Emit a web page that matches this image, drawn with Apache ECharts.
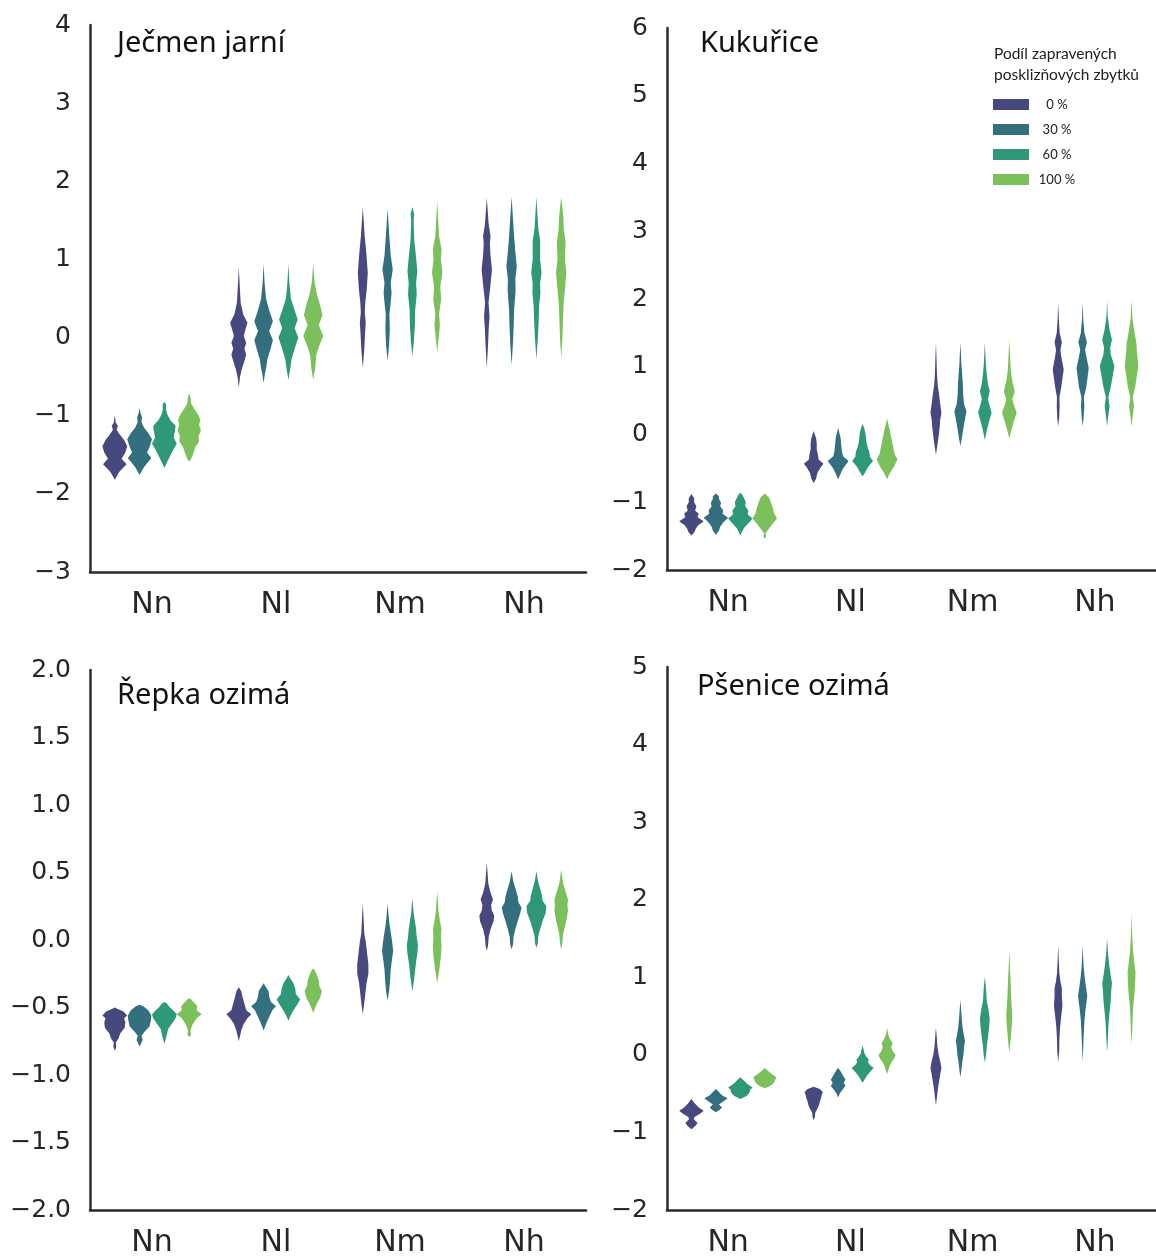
<!DOCTYPE html>
<html>
<head>
<meta charset="utf-8">
<script src="https://cdn.jsdelivr.net/npm/echarts@6/dist/echarts.min.js"></script>
<style>
html, body { margin: 0; padding: 0; background: #fff; }
#chart { width: 1156px; height: 1258px; }
</style>
</head>
<body>
<div id="chart"></div>
<script>
var categories = ['Nn', 'Nl', 'Nm', 'Nh'];
var residues = ['0 %', '30 %', '60 %', '100 %'];
var colors = ['#47487d', '#346f80', '#2f9879', '#7cc05b'];
var panelTitles = ['Ječmen jarní', 'Kukuřice', 'Řepka ozimá', 'Pšenice ozimá'];

// violin profiles: [value, relative density] for each category x residue share
var jecmen = [
  [ // Nn
    [[-1.82,0],[-1.72,0.35],[-1.62,0.95],[-1.55,0.55],[-1.47,0.85],[-1.39,1.0],[-1.31,0.75],[-1.24,0.4],[-1.18,0.15],[-1.13,0.25],[-1.09,0.08],[-0.99,0]],
    [[-1.76,0],[-1.66,0.35],[-1.54,0.95],[-1.47,0.6],[-1.40,0.8],[-1.30,1.0],[-1.22,0.7],[-1.15,0.35],[-1.08,0.15],[-1.02,0.2],[-0.97,0.08],[-0.90,0]],
    [[-1.67,0],[-1.60,0.2],[-1.52,0.45],[-1.44,0.7],[-1.36,1.0],[-1.28,0.75],[-1.20,0.85],[-1.13,0.9],[-1.06,0.5],[-0.99,0.25],[-0.92,0.12],[-0.86,0.15],[-0.82,0]],
    [[-1.59,0],[-1.54,0.2],[-1.47,0.35],[-1.40,0.5],[-1.33,0.8],[-1.26,0.75],[-1.19,0.95],[-1.12,0.8],[-1.05,0.9],[-0.98,0.7],[-0.91,0.4],[-0.84,0.15],[-0.78,0.12],[-0.71,0]]
  ],
  [ // Nl
    [[-0.64,0],[-0.50,0.1],[-0.40,0.25],[-0.30,0.45],[-0.22,0.6],[-0.14,0.45],[-0.07,0.6],[0.02,0.4],[0.08,0.5],[0.19,0.7],[0.30,0.35],[0.45,0.15],[0.65,0.08],[0.90,0]],
    [[-0.58,0],[-0.45,0.12],[-0.38,0.22],[-0.28,0.3],[-0.15,0.55],[-0.03,0.75],[0.08,0.45],[0.21,0.75],[0.35,0.45],[0.50,0.2],[0.70,0.08],[0.94,0]],
    [[-0.54,0],[-0.40,0.15],[-0.28,0.25],[-0.12,0.55],[0.0,0.8],[0.12,0.5],[0.23,0.75],[0.35,0.5],[0.50,0.2],[0.70,0.08],[0.94,0]],
    [[-0.54,0],[-0.40,0.15],[-0.22,0.25],[-0.12,0.45],[0.02,0.8],[0.16,0.45],[0.29,0.75],[0.42,0.55],[0.55,0.3],[0.70,0.12],[0.94,0]]
  ],
  [ // Nm
    [[-0.39,0],[-0.15,0.12],[0.05,0.18],[0.19,0.24],[0.32,0.16],[0.45,0.2],[0.62,0.32],[0.83,0.4],[1.05,0.3],[1.30,0.15],[1.67,0]],
    [[-0.30,0],[-0.10,0.12],[0.10,0.18],[0.30,0.15],[0.45,0.25],[0.57,0.32],[0.70,0.25],[0.87,0.42],[1.05,0.25],[1.30,0.14],[1.65,0]],
    [[-0.24,0],[-0.05,0.12],[0.15,0.2],[0.35,0.22],[0.55,0.35],[0.70,0.3],[0.85,0.4],[1.05,0.28],[1.25,0.15],[1.50,0.1],[1.58,0.14],[1.67,0]],
    [[-0.19,0],[0.0,0.12],[0.15,0.22],[0.30,0.15],[0.49,0.32],[0.65,0.25],[0.83,0.42],[1.00,0.3],[1.13,0.35],[1.30,0.15],[1.50,0.08],[1.75,0]]
  ],
  [ // Nh
    [[-0.39,0],[-0.10,0.1],[0.10,0.15],[0.27,0.22],[0.45,0.14],[0.65,0.28],[0.87,0.42],[1.05,0.3],[1.20,0.25],[1.30,0.3],[1.45,0.15],[1.79,0]],
    [[-0.35,0],[-0.10,0.1],[0.15,0.17],[0.35,0.2],[0.60,0.32],[0.75,0.3],[0.91,0.42],[1.10,0.3],[1.30,0.2],[1.50,0.12],[1.80,0]],
    [[-0.28,0],[0.0,0.12],[0.20,0.18],[0.40,0.22],[0.57,0.32],[0.70,0.3],[0.83,0.42],[1.00,0.3],[1.24,0.3],[1.40,0.15],[1.80,0]],
    [[-0.26,0],[0.0,0.1],[0.25,0.15],[0.45,0.2],[0.65,0.32],[0.83,0.42],[1.00,0.3],[1.22,0.35],[1.40,0.2],[1.53,0.18],[1.80,0]]
  ]
];

var kukurice = [
  [
    [[-1.49,0],[-1.44,0.25],[-1.39,0.35],[-1.34,0.55],[-1.28,1.0],[-1.22,0.5],[-1.17,0.6],[-1.12,0.3],[-1.06,0.4],[-1.00,0.22],[-0.94,0.22],[-0.88,0]],
    [[-1.48,0],[-1.42,0.25],[-1.36,0.35],[-1.30,0.6],[-1.23,1.0],[-1.17,0.55],[-1.12,0.6],[-1.06,0.35],[-1.01,0.42],[-0.95,0.25],[-0.91,0.25],[-0.87,0]],
    [[-1.49,0],[-1.43,0.15],[-1.38,0.3],[-1.32,0.6],[-1.24,1.0],[-1.18,0.6],[-1.12,0.65],[-1.06,0.4],[-1.0,0.45],[-0.94,0.3],[-0.90,0.2],[-0.86,0]],
    [[-1.54,0],[-1.50,0.12],[-1.46,0.05],[-1.40,0.3],[-1.34,0.55],[-1.24,1.0],[-1.16,0.75],[-1.08,0.65],[-1.0,0.5],[-0.93,0.35],[-0.87,0]]
  ],
  [
    [[-0.72,0],[-0.65,0.2],[-0.57,0.3],[-0.49,0.55],[-0.43,0.8],[-0.37,0.4],[-0.30,0.35],[-0.22,0.25],[-0.14,0.25],[-0.06,0.2],[0.05,0]],
    [[-0.66,0],[-0.58,0.2],[-0.50,0.4],[-0.39,0.85],[-0.32,0.4],[-0.24,0.3],[-0.15,0.25],[-0.05,0.2],[0.10,0]],
    [[-0.62,0],[-0.56,0.2],[-0.48,0.45],[-0.39,0.85],[-0.33,0.6],[-0.26,0.55],[-0.18,0.4],[-0.10,0.3],[0.0,0.25],[0.08,0.15],[0.16,0]],
    [[-0.66,0],[-0.58,0.2],[-0.48,0.55],[-0.37,0.85],[-0.28,0.6],[-0.18,0.5],[-0.05,0.35],[0.08,0.2],[0.15,0.1],[0.24,0]]
  ],
  [
    [[-0.30,0],[-0.18,0.1],[-0.05,0.2],[0.10,0.3],[0.22,0.35],[0.32,0.45],[0.45,0.35],[0.60,0.25],[0.72,0.15],[0.90,0.08],[1.1,0.05],[1.36,0]],
    [[-0.17,0],[-0.05,0.12],[0.10,0.25],[0.25,0.4],[0.34,0.5],[0.45,0.3],[0.60,0.22],[0.75,0.2],[0.88,0.15],[1.05,0.08],[1.36,0]],
    [[-0.08,0],[0.05,0.15],[0.20,0.35],[0.32,0.55],[0.45,0.35],[0.52,0.25],[0.64,0.4],[0.75,0.25],[0.90,0.15],[1.05,0.08],[1.36,0]],
    [[-0.06,0],[0.05,0.15],[0.18,0.35],[0.32,0.6],[0.45,0.35],[0.52,0.25],[0.64,0.45],[0.78,0.25],[0.95,0.12],[1.10,0.08],[1.40,0]]
  ],
  [
    [[0.12,0],[0.25,0.08],[0.42,0.12],[0.55,0.1],[0.70,0.25],[0.96,0.45],[1.15,0.25],[1.25,0.18],[1.36,0.3],[1.50,0.12],[1.70,0.05],[1.94,0]],
    [[0.12,0],[0.25,0.08],[0.42,0.14],[0.55,0.1],[0.70,0.3],[0.98,0.5],[1.15,0.3],[1.25,0.2],[1.36,0.35],[1.50,0.15],[1.70,0.05],[1.96,0]],
    [[0.12,0],[0.25,0.08],[0.42,0.2],[0.55,0.1],[0.70,0.3],[1.01,0.6],[1.18,0.3],[1.28,0.25],[1.40,0.4],[1.55,0.2],[1.75,0.05],[1.98,0]],
    [[0.12,0],[0.25,0.08],[0.42,0.2],[0.55,0.1],[0.70,0.3],[1.01,0.55],[1.20,0.45],[1.35,0.4],[1.50,0.25],[1.70,0.08],[1.98,0]]
  ]
];

var repka = [
  [
    [[-0.82,0],[-0.79,0.12],[-0.76,0.08],[-0.73,0.3],[-0.69,0.45],[-0.65,0.8],[-0.61,0.85],[-0.58,0.75],[-0.56,1.0],[-0.53,0.7],[-0.51,0.2],[-0.50,0]],
    [[-0.79,0],[-0.76,0.15],[-0.74,0.25],[-0.71,0.15],[-0.68,0.4],[-0.64,0.8],[-0.60,0.9],[-0.56,0.95],[-0.52,0.7],[-0.49,0.3],[-0.48,0]],
    [[-0.77,0],[-0.73,0.12],[-0.70,0.2],[-0.66,0.3],[-0.62,0.6],[-0.58,0.9],[-0.55,1.0],[-0.52,0.7],[-0.50,0.45],[-0.47,0.2],[-0.46,0]],
    [[-0.72,0],[-0.70,0.15],[-0.67,0.1],[-0.63,0.25],[-0.58,0.6],[-0.55,1.0],[-0.52,0.6],[-0.49,0.65],[-0.46,0.35],[-0.44,0.15],[-0.43,0]]
  ],
  [
    [[-0.75,0],[-0.71,0.1],[-0.67,0.2],[-0.62,0.4],[-0.58,0.7],[-0.55,1.0],[-0.52,0.6],[-0.47,0.45],[-0.42,0.3],[-0.38,0.2],[-0.35,0]],
    [[-0.67,0],[-0.64,0.12],[-0.60,0.3],[-0.55,0.55],[-0.52,0.7],[-0.49,1.0],[-0.46,0.6],[-0.42,0.45],[-0.38,0.4],[-0.35,0.2],[-0.32,0]],
    [[-0.60,0],[-0.57,0.12],[-0.53,0.35],[-0.48,0.7],[-0.44,0.95],[-0.40,0.6],[-0.36,0.55],[-0.32,0.4],[-0.29,0.2],[-0.26,0]],
    [[-0.54,0],[-0.51,0.12],[-0.47,0.3],[-0.43,0.55],[-0.38,0.7],[-0.34,0.5],[-0.30,0.45],[-0.26,0.3],[-0.23,0.15],[-0.21,0]]
  ],
  [
    [[-0.55,0],[-0.48,0.1],[-0.40,0.2],[-0.32,0.3],[-0.25,0.45],[-0.18,0.45],[-0.10,0.35],[-0.02,0.25],[0.05,0.12],[0.15,0.07],[0.27,0]],
    [[-0.45,0],[-0.38,0.12],[-0.30,0.2],[-0.22,0.25],[-0.15,0.35],[-0.08,0.45],[0.0,0.35],[0.06,0.25],[0.12,0.15],[0.18,0.08],[0.27,0]],
    [[-0.38,0],[-0.32,0.1],[-0.24,0.2],[-0.16,0.3],[-0.10,0.4],[-0.04,0.45],[0.02,0.35],[0.08,0.3],[0.14,0.2],[0.20,0.1],[0.31,0]],
    [[-0.32,0],[-0.26,0.1],[-0.20,0.2],[-0.12,0.3],[-0.05,0.35],[0.03,0.3],[0.08,0.35],[0.14,0.22],[0.20,0.12],[0.28,0.06],[0.36,0]]
  ],
  [
    [[-0.08,0],[-0.04,0.1],[0.02,0.15],[0.08,0.3],[0.14,0.55],[0.18,0.6],[0.22,0.4],[0.26,0.35],[0.30,0.5],[0.35,0.3],[0.42,0.12],[0.50,0.06],[0.57,0]],
    [[-0.07,0],[-0.03,0.12],[0.02,0.15],[0.08,0.3],[0.14,0.5],[0.20,0.7],[0.24,0.8],[0.28,0.55],[0.32,0.5],[0.37,0.35],[0.43,0.15],[0.51,0]],
    [[-0.06,0],[-0.02,0.12],[0.03,0.15],[0.08,0.3],[0.14,0.5],[0.20,0.75],[0.25,0.8],[0.29,0.5],[0.33,0.45],[0.38,0.3],[0.44,0.12],[0.51,0]],
    [[-0.07,0],[-0.02,0.1],[0.04,0.15],[0.10,0.3],[0.16,0.45],[0.22,0.55],[0.26,0.5],[0.30,0.55],[0.36,0.35],[0.42,0.15],[0.52,0]]
  ]
];

var psenice = [
  [
    [[-0.96,0],[-0.92,0.3],[-0.88,0.5],[-0.83,0.2],[-0.80,0.25],[-0.76,0.7],[-0.72,1.0],[-0.68,0.6],[-0.63,0.3],[-0.57,0]],
    [[-0.74,0],[-0.71,0.3],[-0.68,0.5],[-0.64,0.25],[-0.60,0.6],[-0.56,0.95],[-0.52,0.5],[-0.48,0.25],[-0.44,0]],
    [[-0.57,0],[-0.53,0.5],[-0.49,0.75],[-0.45,0.8],[-0.42,1.0],[-0.38,0.6],[-0.34,0.35],[-0.29,0]],
    [[-0.43,0],[-0.40,0.45],[-0.36,0.75],[-0.32,0.85],[-0.29,0.95],[-0.25,0.6],[-0.21,0.3],[-0.17,0]]
  ],
  [
    [[-0.84,0],[-0.80,0.1],[-0.75,0.12],[-0.68,0.35],[-0.64,0.45],[-0.60,0.5],[-0.56,0.6],[-0.52,0.65],[-0.48,0.75],[-0.44,0.5],[-0.41,0]],
    [[-0.55,0],[-0.50,0.12],[-0.45,0.35],[-0.40,0.6],[-0.36,0.45],[-0.32,0.6],[-0.28,0.45],[-0.24,0.3],[-0.20,0.15],[-0.17,0]],
    [[-0.36,0],[-0.32,0.15],[-0.27,0.35],[-0.22,0.6],[-0.17,0.9],[-0.13,0.6],[-0.10,0.45],[-0.06,0.5],[-0.02,0.3],[0.02,0.15],[0.06,0.1],[0.12,0]],
    [[-0.25,0],[-0.20,0.1],[-0.15,0.2],[-0.10,0.35],[-0.04,0.6],[0.0,0.7],[0.05,0.45],[0.10,0.35],[0.15,0.45],[0.20,0.25],[0.26,0.1],[0.35,0]]
  ],
  [
    [[-0.65,0],[-0.55,0.08],[-0.45,0.15],[-0.35,0.25],[-0.25,0.35],[-0.17,0.45],[-0.08,0.35],[0.0,0.22],[0.10,0.12],[0.22,0.07],[0.35,0]],
    [[-0.29,0],[-0.20,0.08],[-0.10,0.15],[0.0,0.25],[0.10,0.3],[0.18,0.38],[0.26,0.28],[0.35,0.18],[0.45,0.12],[0.58,0.06],[0.71,0]],
    [[-0.10,0],[0.0,0.1],[0.10,0.15],[0.22,0.25],[0.35,0.35],[0.47,0.4],[0.58,0.3],[0.70,0.15],[0.85,0.1],[1.01,0]],
    [[0.03,0],[0.15,0.08],[0.28,0.15],[0.40,0.22],[0.50,0.25],[0.62,0.2],[0.75,0.15],[0.90,0.12],[1.10,0.06],[1.35,0]]
  ],
  [
    [[-0.10,0],[0.05,0.08],[0.20,0.1],[0.35,0.15],[0.50,0.25],[0.64,0.35],[0.75,0.3],[0.86,0.3],[0.95,0.18],[1.05,0.1],[1.20,0.05],[1.41,0]],
    [[-0.08,0],[0.10,0.05],[0.30,0.1],[0.45,0.15],[0.60,0.25],[0.76,0.38],[0.90,0.25],[1.02,0.15],[1.15,0.08],[1.40,0]],
    [[0.03,0],[0.20,0.06],[0.40,0.12],[0.55,0.2],[0.70,0.3],[0.85,0.35],[0.92,0.4],[1.02,0.3],[1.15,0.18],[1.30,0.08],[1.50,0]],
    [[0.13,0],[0.30,0.05],[0.50,0.1],[0.65,0.15],[0.80,0.25],[0.95,0.3],[1.07,0.32],[1.20,0.22],[1.35,0.12],[1.55,0.05],[1.82,0]]
  ]
];

var panelData = [jecmen, kukurice, repka, psenice];
var yMin = [-3, -2, -2, -2];
var yMax = [4, 6, 2, 5];
var yStep = [1, 1, 0.5, 1];
var yDecimals = [0, 0, 1, 0];

var chart = echarts.init(document.getElementById('chart'));

var grids = [
  { left: 90, top: 25, width: 496, height: 547 },
  { left: 667, top: 28, width: 492, height: 542 },
  { left: 90, top: 670, width: 496, height: 545 },
  { left: 667, top: 667, width: 492, height: 546 }
];
var titlePos = [[112, 24], [695, 24], [112, 676], [692, 667]];

var axisLine = { show: true, onZero: false, lineStyle: { color: '#2b2b2b', width: 2.5 } };
var xAxes = [], yAxes = [], series = [], titles = [];

for (var p = 0; p < 4; p++) {
  xAxes.push({
    type: 'category', gridIndex: p, data: categories,
    axisLine: axisLine, axisTick: { show: false }, splitLine: { show: false },
    axisLabel: { color: '#262626', fontSize: 30, fontFamily: 'DejaVu Sans', margin: 18 }
  });
  (function (dec) {
    yAxes.push({
      type: 'value', gridIndex: p, min: yMin[p], max: yMax[p], interval: yStep[p],
      axisLine: axisLine, axisTick: { show: false }, splitLine: { show: false },
      axisLabel: {
        color: '#262626', fontSize: 25, fontFamily: 'DejaVu Sans', margin: 19,
        formatter: function (v) { return v.toFixed(dec).replace('-', '\u2212'); }
      }
    });
  })(yDecimals[p]);
  titles.push({
    text: panelTitles[p], left: titlePos[p][0], top: titlePos[p][1],
    textStyle: { fontSize: 29, fontWeight: 'normal', color: '#111', fontFamily: 'Noto Sans' }
  });
  for (var h = 0; h < 4; h++) {
    (function (profiles, hue) {
      series.push({
        type: 'custom', name: residues[hue], xAxisIndex: p, yAxisIndex: p,
        itemStyle: { color: colors[hue] },
        data: categories.map(function (c, i) { return [i, hue]; }),
        encode: { x: 0 },
        renderItem: function (params, api) {
          var cat = api.value(0);
          var prof = profiles[cat][hue];
          var slot = api.size([1, 0])[0] * 0.8 / 4;
          var cx = api.coord([cat, 0])[0] + (hue - 1.5) * slot;
          var right = [], left = [];
          prof.forEach(function (d) {
            var y = api.coord([cat, d[0]])[1];
            var hw = d[1] * slot / 2;
            right.push([cx + hw, y]);
            left.unshift([cx - hw, y]);
          });
          return {
            type: 'polygon',
            shape: { points: right.concat(left) },
            style: { fill: colors[hue] }
          };
        }
      });
    })(panelData[p], h);
  }
}

titles.push({
  text: 'Podíl zapravených\nposklizňových zbytků', left: 989, top: 38,
  textStyle: { fontSize: 15.5, fontWeight: 'normal', color: '#222', fontFamily: 'Lato', lineHeight: 21 }
});

var option = {
  backgroundColor: '#fff',
  animation: false,
  title: titles,
  grid: grids,
  xAxis: xAxes,
  yAxis: yAxes,
  legend: {
    data: residues, orient: 'vertical', left: 988, top: 93,
    icon: 'rect', itemWidth: 36, itemHeight: 11, itemGap: 12,
    formatter: '{a|{name}}',
    textStyle: { rich: { a: { width: 46, align: 'center', fontSize: 13, lineHeight: 14, fontFamily: 'Lato', color: '#222' } } }
  },
  series: series
};

chart.setOption(option);
window.onresize = chart.resize;
</script>
</body>
</html>
